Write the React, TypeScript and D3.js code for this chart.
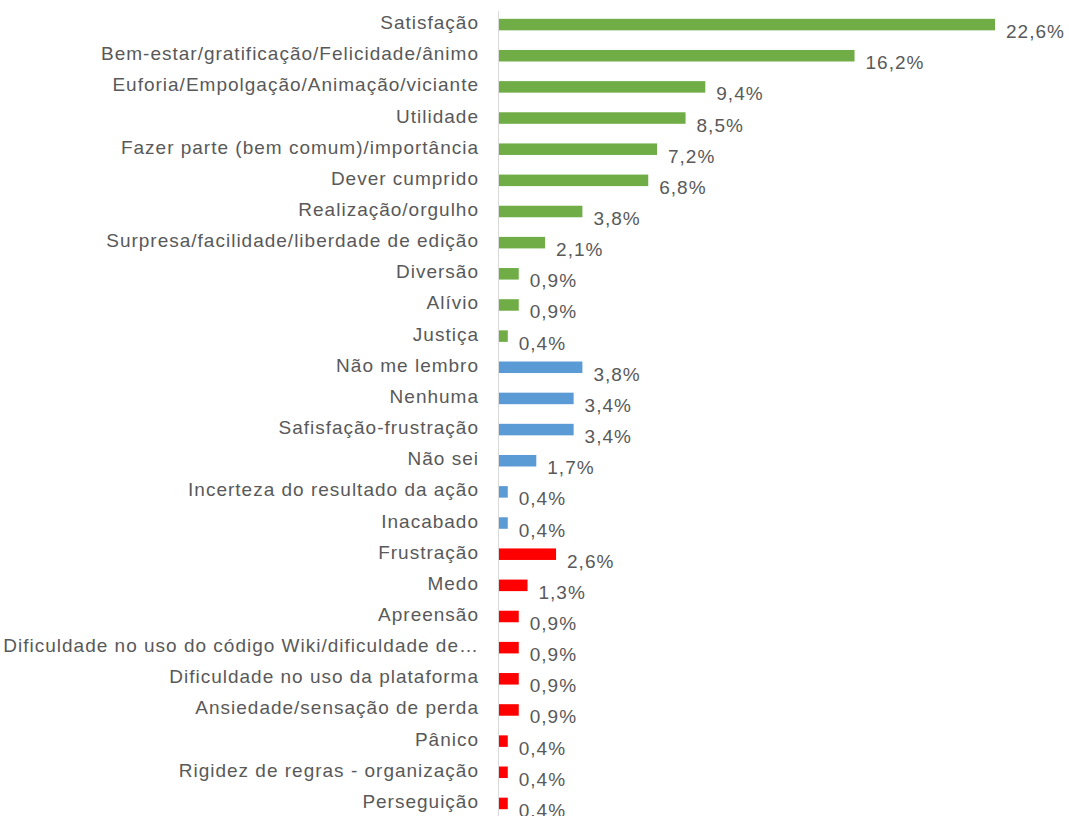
import * as d3 from 'd3'

const W = 1069
const H = 816

const POSITIVE = [
  'Satisfação',
  'Bem-estar/gratificação/Felicidade/ânimo',
  'Euforia/Empolgação/Animação/viciante',
  'Utilidade',
  'Fazer parte (bem comum)/importância',
  'Dever cumprido',
  'Realização/orgulho',
  'Surpresa/facilidade/liberdade de edição',
  'Diversão',
  'Alívio',
  'Justiça',
]
const POSITIVE_VALUES = [22.6, 16.2, 9.4, 8.5, 7.2, 6.8, 3.8, 2.1, 0.9, 0.9, 0.4]

const NEUTRAL = [
  'Não me lembro',
  'Nenhuma',
  'Safisfação-frustração',
  'Não sei',
  'Incerteza do resultado da ação',
  'Inacabado',
]
const NEUTRAL_VALUES = [3.8, 3.4, 3.4, 1.7, 0.4, 0.4]

const NEGATIVE = [
  'Frustração',
  'Medo',
  'Apreensão',
  'Dificuldade no uso do código Wiki/dificuldade de…',
  'Dificuldade no uso da plataforma',
  'Ansiedade/sensação de perda',
  'Pânico',
  'Rigidez de regras - organização',
  'Perseguição',
]
const NEGATIVE_VALUES = [2.6, 1.3, 0.9, 0.9, 0.9, 0.9, 0.4, 0.4, 0.4]

const GROUP_COLORS = ['#70AD47', '#5B9BD5', '#FF0000']

export default function App() {
  const rows = [
    ...POSITIVE.map((label, i) => ({ label, value: POSITIVE_VALUES[i], group: 0 })),
    ...NEUTRAL.map((label, i) => ({ label, value: NEUTRAL_VALUES[i], group: 1 })),
    ...NEGATIVE.map((label, i) => ({ label, value: NEGATIVE_VALUES[i], group: 2 })),
  ]

  const x0 = 499
  const x = d3.scaleLinear().domain([0, 22.6]).range([x0, 995])
  const y = d3
    .scaleBand()
    .domain(rows.map((d) => d.label))
    .range([9, 819])
    .paddingInner(0.63)
    .paddingOuter(0.315)

  const fmt = (v: number) => d3.format('.1f')(v).replace('.', ',') + '%'

  return (
    <svg
      width={W}
      height={H}
      style={{ position: 'absolute', left: 0, top: 0, background: '#fff' }}
      fontFamily="'Liberation Sans', Arial, sans-serif"
    >
      <line x1={x0 - 0.5} x2={x0 - 0.5} y1={11} y2={H} stroke="#D9D9D9" strokeWidth={1} />
      {rows.map((d, i) => {
        const yy = y(d.label) ?? 0
        const cy = yy + y.bandwidth() / 2
        return (
          <g key={i}>
            <rect
              x={x0}
              y={yy}
              width={x(d.value) - x0}
              height={y.bandwidth()}
              fill={GROUP_COLORS[d.group]}
            />
            <text
              x={479}
              y={cy - 2}
              textAnchor="end"
              dominantBaseline="central"
              fontSize={19}
              letterSpacing={1}
              fill="#595959"
            >
              {d.label}
            </text>
            <text
              x={x(d.value) + 11}
              y={cy + 7}
              dominantBaseline="central"
              fontSize={19}
              letterSpacing={1}
              fill="#595959"
            >
              {fmt(d.value)}
            </text>
          </g>
        )
      })}
    </svg>
  )
}
